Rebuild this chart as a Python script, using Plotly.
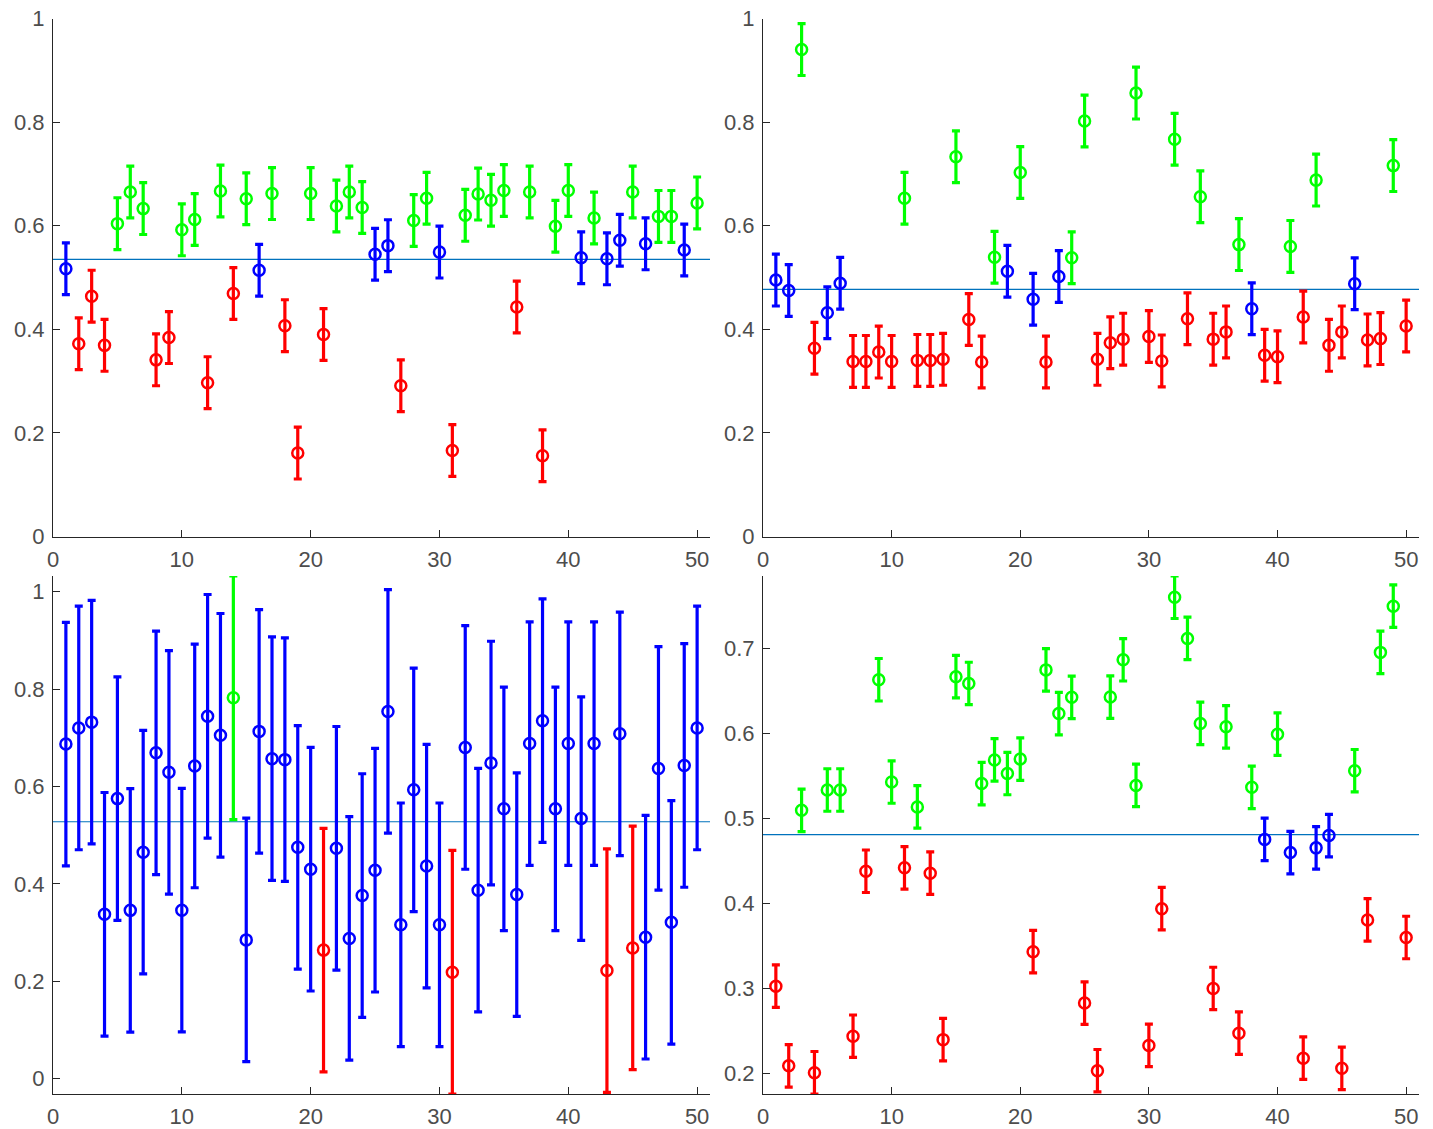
import plotly.graph_objects as go

# ---------------- data ----------------
x_vals = list(range(1, 51))

# Top-left panel
tl_y = [0.517, 0.372, 0.464, 0.369, 0.604, 0.665, 0.633, 0.341, 0.384, 0.592,
        0.612, 0.297, 0.667, 0.469, 0.652, 0.514, 0.662, 0.407, 0.161, 0.662,
        0.390, 0.638, 0.665, 0.635, 0.545, 0.5615, 0.291, 0.610, 0.653, 0.549,
        0.166, 0.620, 0.661, 0.649, 0.668, 0.443, 0.665, 0.156, 0.599, 0.668,
        0.538, 0.615, 0.536, 0.572, 0.665, 0.565, 0.618, 0.618, 0.553, 0.644]
tl_cat = list("brrrgggrrg" "grgrgbgrrg" "rgggbbrggb" "rggggrgrgg" "bgbbgbggbg")
tl_err = 0.05
tl_mean = 0.535

# Top-right panel
tr_y = [0.495, 0.475, 0.940, 0.3635, 0.432, 0.489, 0.338, 0.338, 0.356, 0.338,
        0.653, 0.340, 0.340, 0.342, 0.733, 0.419, 0.337, 0.539, 0.512, 0.7026,
        0.458, 0.337, 0.502, 0.538, 0.802, 0.342, 0.374, 0.381, 0.856, 0.386,
        0.339, 0.767, 0.4205, 0.656, 0.381, 0.395, 0.5635, 0.4397, 0.350, 0.347,
        0.560, 0.4237, 0.688, 0.369, 0.395, 0.488, 0.3795, 0.382, 0.716, 0.4064]
tr_cat = list("bbgrbbrrrr" "grrrgrrgbg" "brbggrrrgr" "rgrgrrgbrr" "grgrrbrrgr")
tr_err = 0.05
tr_mean = 0.477

# Bottom-left panel
bl_y = [0.687, 0.720, 0.732, 0.3375, 0.575, 0.3456, 0.465, 0.669, 0.629, 0.346,
        0.642, 0.744, 0.705, 0.782, 0.285, 0.713, 0.657, 0.655, 0.475, 0.430,
        0.264, 0.473, 0.288, 0.376, 0.428, 0.754, 0.316, 0.593, 0.4365, 0.316,
        0.2186, 0.680, 0.387, 0.648, 0.554, 0.378, 0.688, 0.735, 0.554, 0.688,
        0.534, 0.688, 0.222, 0.708, 0.2685, 0.2905, 0.637, 0.321, 0.643, 0.720]
bl_cat = list("bbbbbbbbbb" "bbbgbbbbbb" "rbbbbbbbbb" "rbbbbbbbbb" "bbrbrbbbbb")
bl_err = 0.25
bl_mean = 0.5275

# Bottom-right panel
br_y = [0.3027, 0.209, 0.5097, 0.2008, 0.5336, 0.5336, 0.2438, 0.438, 0.6634, 0.543,
        0.442, 0.5137, 0.4357, 0.2398, 0.667, 0.659, 0.5412, 0.569, 0.553, 0.570,
        0.3433, 0.675, 0.6236, 0.6427, 0.2828, 0.2032, 0.643, 0.6869, 0.539, 0.233,
        0.3939, 0.7605, 0.712, 0.612, 0.300, 0.608, 0.2474, 0.5368, 0.4755, 0.5993,
        0.460, 0.218, 0.4655, 0.480, 0.206, 0.5563, 0.3807, 0.6956, 0.750, 0.360]
br_cat = list("rrgrggrrgg" "rgrrgggggg" "rgggrrgggr" "rgggrgrgbg" "brbbrgrggr")
br_err = 0.025
br_mean = 0.481

x_ticks = [0, 10, 20, 30, 40, 50]

for arr in (tl_y, tl_cat, tr_y, tr_cat, bl_y, bl_cat, br_y, br_cat):
    assert len(arr) == 50

# ---------------- styling ----------------
COLORS = {"r": "rgb(255,0,0)", "g": "rgb(0,255,0)", "b": "rgb(0,0,255)"}
W, H = 1433, 1129

fig = go.Figure()

panels = [
    (tl_y, tl_cat, tl_err, tl_mean, "x", "y"),
    (tr_y, tr_cat, tr_err, tr_mean, "x2", "y2"),
    (bl_y, bl_cat, bl_err, bl_mean, "x3", "y3"),
    (br_y, br_cat, br_err, br_mean, "x4", "y4"),
]

for ys, cats, err, mean, xa, ya in panels:
    fig.add_shape(type="line", xref=f"{xa} domain", yref=ya, x0=0, x1=1,
                  y0=mean, y1=mean, line=dict(color="rgb(0,114,189)", width=1.2),
                  layer="below")
    for c in ["b", "r", "g"]:
        xs = [x for x, k in zip(x_vals, cats) if k == c]
        yy = [y for y, k in zip(ys, cats) if k == c]
        if not xs:
            continue
        fig.add_trace(go.Scatter(
            x=xs, y=yy, mode="markers", xaxis=xa, yaxis=ya, showlegend=False,
            marker=dict(symbol="circle-open", size=11, color=COLORS[c],
                        line=dict(width=2.5, color=COLORS[c])),
            error_y=dict(type="constant", value=err, color=COLORS[c],
                         thickness=3.2, width=4),
            cliponaxis=False,
        ))

def px_x(a, b):
    return [a / W, b / W]

def px_y(top, bottom):
    return [(H - bottom) / H, (H - top) / H]

axis_common = dict(
    showgrid=False, zeroline=False, showline=True, linecolor="#262626",
    linewidth=1, ticks="inside", ticklen=7, tickwidth=1, tickcolor="#262626",
    tickfont=dict(family="Liberation Sans, Arial, sans-serif", size=22, color="#4d4d4d"),
    mirror=False, automargin=False,
)
xax = dict(axis_common, ticklabelstandoff=3)
yax = dict(axis_common, ticklabelstandoff=3)

def ybounds(ys, err):
    return [min(ys) - err, max(ys) + err]

y01_vals = [0, 0.2, 0.4, 0.6, 0.8, 1]
y01_text = ["0", "0.2", "0.4", "0.6", "0.8", "1"]
br_vals = [0.2, 0.3, 0.4, 0.5, 0.6, 0.7]
br_text = ["0.2", "0.3", "0.4", "0.5", "0.6", "0.7"]

fig.update_layout(
    width=W, height=H, margin=dict(l=0, r=0, t=0, b=0, autoexpand=False),
    paper_bgcolor="white", plot_bgcolor="white", showlegend=False,
    xaxis=dict(domain=px_x(53, 710), anchor="y", range=[0, 51], tickvals=x_ticks, **xax),
    yaxis=dict(domain=px_y(18.5, 536.5), anchor="x", range=[0, 1],
               tickvals=y01_vals, ticktext=y01_text, **yax),
    xaxis2=dict(domain=px_x(763, 1419), anchor="y2", range=[0, 51], tickvals=x_ticks, **xax),
    yaxis2=dict(domain=px_y(18.5, 536.5), anchor="x2", range=[0, 1],
                tickvals=y01_vals, ticktext=y01_text, **yax),
    xaxis3=dict(domain=px_x(53, 710), anchor="y3", range=[0, 51], tickvals=x_ticks, **xax),
    yaxis3=dict(domain=px_y(576, 1094), anchor="x3", range=ybounds(bl_y, bl_err),
                tickvals=y01_vals, ticktext=y01_text, **yax),
    xaxis4=dict(domain=px_x(763, 1419), anchor="y4", range=[0, 51], tickvals=x_ticks, **xax),
    yaxis4=dict(domain=px_y(576, 1094), anchor="x4", range=ybounds(br_y, br_err),
                tickvals=br_vals, ticktext=br_text, **yax),
)

fig.write_html("out.html", config={"displayModeBar": False},
               post_script="document.body.style.margin='0';document.body.style.overflow='hidden';")
